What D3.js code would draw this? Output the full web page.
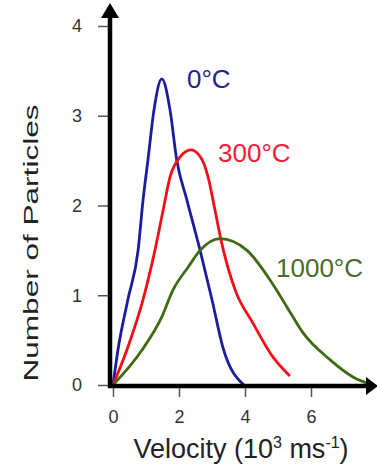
<!DOCTYPE html>
<html>
<head>
<meta charset="utf-8">
<script src="https://cdn.jsdelivr.net/npm/d3@7"></script>
<style>
  html, body { margin: 0; padding: 0; background: #fff; }
  svg { display: block; font-family: 'Liberation Sans', Arial, sans-serif; }
</style>
</head>
<body>
<script>
'use strict'

// speeds in 10^3 m/s, counts
const v0 = [0, 0.15, 0.45, 0.76, 0.91, 1.06, 1.24, 1.48, 1.73, 1.93, 2.24, 2.64, 3.0, 3.33, 3.97]
const n0 = [0, 0.39, 0.95, 1.5, 2.06, 2.51, 3.06, 3.41, 3.06, 2.51, 2.06, 1.5, 0.95, 0.42, 0]
const v300 = [0, 0.42, 0.91, 1.27, 1.52, 1.73, 2.03, 2.36, 2.67, 2.88, 3.09, 3.27, 3.7, 4.24, 4.85, 5.36]
const n300 = [0, 0.39, 0.95, 1.5, 1.95, 2.32, 2.54, 2.62, 2.53, 2.32, 1.95, 1.62, 1.06, 0.69, 0.31, 0.1]
const v1000 = [0, 0.88, 1.48, 1.82, 2.27, 2.64, 3.24, 4.06, 4.76, 5.27, 5.76, 6.58, 7.27, 7.88]
const n1000 = [0, 0.39, 0.76, 1.06, 1.31, 1.5, 1.63, 1.5, 1.17, 0.87, 0.58, 0.28, 0.09, 0]
const seriesNames = ['0°C', '300°C', '1000°C']
const xTicks = [0, 2, 4, 6]
const yTicks = [0, 1, 2, 3, 4]

const width = 377
const height = 467

const svg = d3.select('body').append('svg')
  .attr('width', width)
  .attr('height', height)

const x = d3.scaleLinear().domain([0, 6]).range([113, 311])
const y = d3.scaleLinear().domain([0, 4]).range([385, 26])

const series = [
  { name: seriesNames[0], v: v0, n: n0, stroke: '#1c1ca0', text: '#23238c', lx: 187, ly: 88 },
  { name: seriesNames[1], v: v300, n: n300, stroke: '#f21018', text: '#f0203a', lx: 218, ly: 162 },
  { name: seriesNames[2], v: v1000, n: n1000, stroke: '#3f6a14', text: '#4b6b2b', lx: 276, ly: 277 }
]

// tick marks (thin, grey) drawn by the axes
const yAxis = d3.axisLeft(y).tickValues(yTicks).tickFormat(d3.format('d')).tickSize(12).tickPadding(16)
svg.append('g')
  .attr('transform', 'translate(110,0)')
  .call(yAxis)
  .call(g => g.select('.domain').remove())
  .call(g => g.selectAll('line').attr('stroke', '#555').attr('stroke-width', 1.5).attr('x2', -12).attr('x1', -2))
  .call(g => g.selectAll('text').attr('font-size', 18).attr('fill', '#333').attr('font-family', 'Liberation Sans, Arial, sans-serif'))

const xAxis = d3.axisBottom(x).tickValues(xTicks).tickFormat(d3.format('d')).tickSize(10).tickPadding(13)
svg.append('g')
  .attr('transform', 'translate(0,387)')
  .call(xAxis)
  .call(g => g.select('.domain').remove())
  .call(g => g.selectAll('line').attr('stroke', '#555').attr('stroke-width', 1.5))
  .call(g => g.selectAll('text').attr('font-size', 18).attr('fill', '#333').attr('font-family', 'Liberation Sans, Arial, sans-serif'))

const line = d3.line()
  .x(d => x(d[0]))
  .y(d => y(d[1]))
  .curve(d3.curveMonotoneX)

series.forEach(function (s) {
  svg.append('path')
    .datum(d3.zip(s.v, s.n))
    .attr('fill', 'none')
    .attr('stroke', s.stroke)
    .attr('stroke-width', 2.8)
    .attr('stroke-linejoin', 'round')
    .attr('d', line)

  svg.append('text')
    .attr('x', s.lx)
    .attr('y', s.ly)
    .attr('font-size', 26)
    .attr('fill', s.text)
    .text(s.name)
})

// thick axis lines with arrow heads
svg.append('line')
  .attr('x1', 110).attr('y1', 388).attr('x2', 110).attr('y2', 16)
  .attr('stroke', '#000').attr('stroke-width', 4.5)
svg.append('path')
  .attr('d', 'M101,18L119,18L110,3Z')
  .attr('fill', '#000')
svg.append('line')
  .attr('x1', 108).attr('y1', 386).attr('x2', 368).attr('y2', 386)
  .attr('stroke', '#000').attr('stroke-width', 4.5)
svg.append('path')
  .attr('d', 'M366,377L378,386L366,395Z')
  .attr('fill', '#000')

svg.append('text')
  .attr('x', 241)
  .attr('y', 458)
  .attr('text-anchor', 'middle')
  .attr('font-size', 27)
  .attr('fill', '#222')
  .call(t => {
    t.append('tspan').text('Velocity (10')
    t.append('tspan').attr('font-size', 16).attr('dy', -10).text('3')
    t.append('tspan').attr('dy', 10).text(' ms')
    t.append('tspan').attr('font-size', 16).attr('dy', -10).text('-1')
    t.append('tspan').attr('dy', 10).text(')')
  })

svg.append('text')
  .attr('transform', 'translate(38,243) rotate(-90)')
  .attr('text-anchor', 'middle')
  .attr('font-size', 21)
  .attr('fill', '#222')
  .attr('textLength', 277)
  .attr('lengthAdjust', 'spacingAndGlyphs')
  .text('Number of Particles')
</script>
</body>
</html>
